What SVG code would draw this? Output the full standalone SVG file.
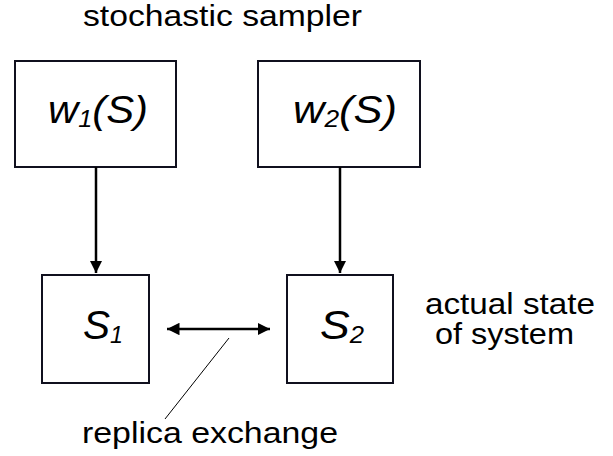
<svg xmlns="http://www.w3.org/2000/svg" width="613" height="456" viewBox="0 0 613 456">
<defs>
<style>
.box{fill:#fff;stroke:#10101e;stroke-width:2}
.lbl{font-family:"Liberation Sans",Arial,sans-serif;font-style:italic;fill:#000}
.txt{font-family:"Liberation Sans",Arial,sans-serif;font-size:29px;fill:#000}
.arr{stroke:#000;stroke-width:2.5;fill:none}
</style>
<marker id="ah" viewBox="0 0 10 10" refX="10" refY="5" markerWidth="5" markerHeight="5" orient="auto-start-reverse" markerUnits="strokeWidth">
<path d="M0,0 L10,5 L0,10 Z" fill="#000"/>
</marker>
</defs>
<rect width="613" height="456" fill="#fff"/>
<text class="txt" x="83" y="26" textLength="279" lengthAdjust="spacingAndGlyphs">stochastic sampler</text>
<g id="w1">
<rect class="box" x="15" y="61" width="161" height="106"/>
<text class="lbl" x="48" y="123" font-size="38" textLength="100" lengthAdjust="spacingAndGlyphs">w<tspan font-size="23" dy="4">1</tspan><tspan dy="-4">(S)</tspan></text>
</g>
<g id="w2">
<rect class="box" x="258" y="61" width="162" height="106"/>
<text class="lbl" x="293" y="123" font-size="38" textLength="104" lengthAdjust="spacingAndGlyphs">w<tspan font-size="23" dy="4">2</tspan><tspan dy="-4">(S)</tspan></text>
</g>
<g id="s1">
<rect class="box" x="42" y="275" width="107" height="108"/>
<text class="lbl" x="83" y="339" font-size="40" textLength="40" lengthAdjust="spacingAndGlyphs">S<tspan font-size="23" dy="4">1</tspan></text>
</g>
<g id="s2">
<rect class="box" x="287" y="275" width="106" height="108"/>
<text class="lbl" x="320" y="339" font-size="40" textLength="44" lengthAdjust="spacingAndGlyphs">S<tspan font-size="23" dy="4">2</tspan></text>
</g>
<g id="connectors">
<line class="arr" x1="96" y1="167" x2="96" y2="273" marker-end="url(#ah)"/>
<line class="arr" x1="340" y1="167" x2="340" y2="273" marker-end="url(#ah)"/>
<line class="arr" x1="167" y1="329" x2="270" y2="329" marker-start="url(#ah)" marker-end="url(#ah)"/>
<line x1="229" y1="338" x2="165" y2="419" stroke="#000" stroke-width="1"/>
</g>
<text class="txt" x="82" y="443" textLength="256" lengthAdjust="spacingAndGlyphs">replica exchange</text>
<text class="txt" x="425" y="314" textLength="170" lengthAdjust="spacingAndGlyphs">actual state</text>
<text class="txt" x="435" y="344" textLength="139" lengthAdjust="spacingAndGlyphs">of system</text>
</svg>
